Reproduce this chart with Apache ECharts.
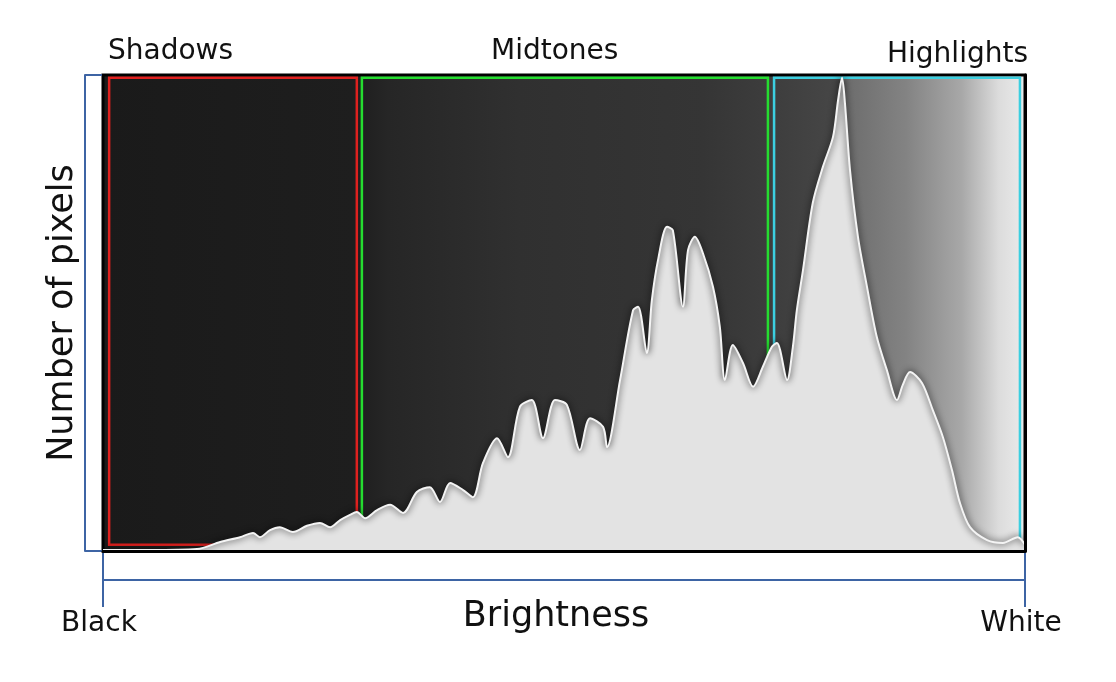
<!DOCTYPE html>
<html>
<head>
<meta charset="utf-8">
<script src="https://cdn.jsdelivr.net/npm/echarts@6/dist/echarts.min.js"></script>
<style>
  html, body { margin: 0; padding: 0; background: #fff; }
  #main { width: 1116px; height: 682px; }
</style>
</head>
<body>
<div id="main"></div>
<script>
// brightness (0 = black, 255 = white) and relative pixel count
var brightness = [0, 13, 26, 32.4, 37.9, 41.5, 43.4, 46.2, 48.9, 52.5, 56.4, 60, 62.8,
  65.6, 68.3, 70.2, 72.5, 75.8, 79.4, 83, 86.8, 90.4, 93.2,
  96, 99.6, 102.3, 105.1, 109, 112, 115.3, 118.6, 121.7, 125,
  128.3, 131.9, 134.7, 138.3, 139.4, 143, 146.6, 148, 150.4, 151.8,
  153.5, 156, 157.6, 160.4, 161.8, 163.7, 165.9, 168.7, 170.6, 172,
  174.2, 177, 179.8, 182.5, 185, 186.4, 189.2, 190.8, 191.9, 193.6,
  196.3, 199.1, 201.9, 203.3, 204.4, 205.2, 206.6, 208.8, 211.3, 214,
  216.8, 219.6, 221.2, 223.2, 226.5, 229.5, 232.3, 234.8, 237, 239.8,
  244.5, 248.9, 253, 255];
var pixelCount = [0.2, 0.2, 0.4, 1.9, 2.9, 3.8, 2.9, 4.4, 5.0, 4.0, 5.3, 5.9, 5.0,
  6.5, 7.6, 8.2, 6.9, 8.6, 9.7, 8.0, 12.4, 13.4, 10.3,
  14.3, 12.8, 11.3, 18.5, 23.7, 19.7, 30.3, 31.7, 23.7, 31.7,
  30.7, 21.2, 27.9, 26.1, 21.8, 35.9, 50.6, 51.3, 41.6, 52.7,
  61.1, 68.1, 67.4, 51.3, 63.2, 66.0, 62.6, 55.5, 47.1, 35.9,
  43.3, 39.5, 34.5, 38.7, 42.9, 43.7, 35.9, 42.9, 50.6, 59.0,
  73.1, 80.7, 87.0, 94.7, 99.4, 94.1, 80.0, 66.0, 55.5, 45.0,
  38.0, 31.7, 34.9, 37.6, 35.3, 29.6, 23.9, 17.0, 10.1, 5.0,
  2.3, 1.7, 2.9, 1.3];

// tonal zones: name, brightness from/to, count from/to
var zoneNames = ['Shadows', 'Midtones', 'Highlights'];
var zoneStart = [1.7, 71.6, 185.6];
var zoneEnd = [70.2, 183.9, 253.6];
var zoneBottom = [1.3, 1.9, 1.3];
var zoneTop = [99.4, 99.4, 99.4];
var zoneColors = ['#e0211f', '#25dd30', '#3ccfe0'];

var endLabels = ['Black', 'White'];

var font = '"DejaVu Sans", "Liberation Sans", sans-serif';
var blue = '#3d64a4';

var myChart = echarts.init(document.getElementById('main'));

var histData = [];
for (var i = 0; i < brightness.length; i++) {
    histData.push([brightness[i], pixelCount[i]]);
}

var zoneAreas = [];
for (var j = 0; j < zoneNames.length; j++) {
    zoneAreas.push([
        { coord: [zoneStart[j], zoneBottom[j]], itemStyle: { color: 'transparent', borderColor: zoneColors[j], borderWidth: 2.5 } },
        { coord: [zoneEnd[j], zoneTop[j]] }
    ]);
}

var titleStyle = { fontFamily: font, fontSize: 28, fontWeight: 'normal', color: '#111' };

var option = {
    backgroundColor: '#fff',
    animation: false,
    title: [
        { text: zoneNames[0], left: 108, top: 38, padding: 0, textStyle: titleStyle },
        { text: zoneNames[1], left: 491, top: 38, padding: 0, textStyle: titleStyle },
        { text: zoneNames[2], left: 887, top: 41, padding: 0, textStyle: titleStyle }
    ],
    grid: {
        left: 103, right: 91, top: 75, bottom: 131,
        show: true,
        borderColor: '#000',
        borderWidth: 3,
        backgroundColor: {
            type: 'linear', x: 0, y: 0, x2: 1, y2: 0,
            colorStops: [
                { offset: 0, color: '#1a1a1a' },
                { offset: 0.275, color: '#1e1e1e' },
                { offset: 0.31, color: '#262626' },
                { offset: 0.45, color: '#303030' },
                { offset: 0.65, color: '#353535' },
                { offset: 0.73, color: '#3e3e3e' },
                { offset: 0.80, color: '#474747' },
                { offset: 0.803, color: '#6c6c6c' },
                { offset: 0.87, color: '#838383' },
                { offset: 0.93, color: '#a8a8a8' },
                { offset: 0.97, color: '#dcdcdc' },
                { offset: 1, color: '#ececec' }
            ]
        }
    },
    xAxis: [
        {
            type: 'value', min: 0, max: 255, interval: 255,
            position: 'bottom', offset: 29,
            name: 'Brightness', nameLocation: 'middle', nameGap: 19,
            nameTextStyle: { fontFamily: font, fontSize: 35, color: '#111', padding: [0, 16, 0, 0] },
            axisLine: { onZero: false, lineStyle: { color: blue, width: 2 } },
            axisTick: { inside: true, length: 27, lineStyle: { color: blue, width: 2 } },
            axisLabel: { show: false },
            splitLine: { show: false }
        },
        {
            type: 'value', min: 0, max: 255, interval: 255,
            position: 'bottom', offset: 29,
            axisLine: { onZero: false, lineStyle: { color: blue, width: 2 } },
            axisTick: { inside: false, length: 27, lineStyle: { color: blue, width: 2 } },
            axisLabel: {
                margin: 30,
                padding: [0, 8, 0, 0],
                fontFamily: font, fontSize: 28, color: '#111',
                formatter: function (v) { return v === 0 ? endLabels[0] : endLabels[1]; }
            },
            splitLine: { show: false }
        },
        {
            // black frame edge drawn over the histogram fill
            type: 'value', min: 0, max: 255,
            position: 'bottom', offset: 0, z: 10,
            axisLine: { onZero: false, lineStyle: { color: '#000', width: 3 } },
            axisTick: { show: false },
            axisLabel: { show: false },
            splitLine: { show: false }
        }
    ],
    yAxis: [
        {
            type: 'value', min: 0, max: 100, interval: 100,
            position: 'left', offset: 18,
            name: 'Number of pixels', nameLocation: 'middle', nameGap: 5,
            nameTextStyle: { fontFamily: font, fontSize: 35, color: '#111' },
            axisLine: { onZero: false, lineStyle: { color: blue, width: 2 } },
            axisTick: { inside: true, length: 17, lineStyle: { color: blue, width: 2 } },
            axisLabel: { show: false },
            splitLine: { show: false }
        },
        {
            type: 'value', min: 0, max: 100,
            position: 'right', offset: 0, z: 10,
            axisLine: { show: true, onZero: false, lineStyle: { color: '#000', width: 3 } },
            axisTick: { show: false },
            axisLabel: { show: false },
            splitLine: { show: false }
        }
    ],
    series: [
        {
            name: 'histogram',
            type: 'line',
            xAxisIndex: 0,
            yAxisIndex: 0,
            data: histData,
            smooth: 0.3,
            symbol: 'none',
            lineStyle: { color: '#f4f4f4', width: 2, shadowColor: 'rgba(0,0,0,1)', shadowBlur: 7 },
            areaStyle: { color: '#e3e3e3', opacity: 1 },
            z: 2
        },
        {
            name: 'zones',
            type: 'line',
            xAxisIndex: 0,
            yAxisIndex: 0,
            data: [],
            z: 5,
            markArea: { silent: true, data: zoneAreas }
        }
    ]
};

myChart.setOption(option);
</script>
</body>
</html>
